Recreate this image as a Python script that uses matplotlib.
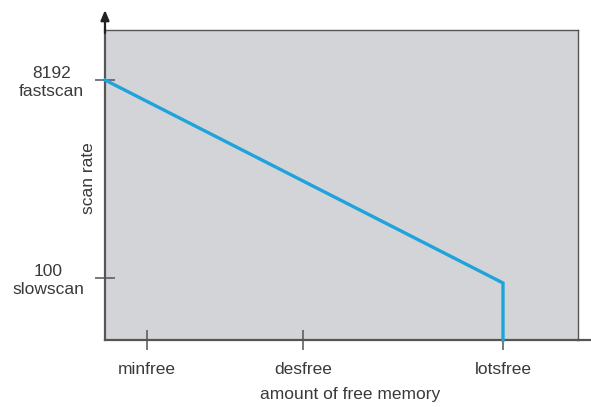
import matplotlib
matplotlib.use("Agg")
import matplotlib.pyplot as plt

# data
x_ticks = [42, 198, 398]
x_labels = ["minfree", "desfree", "lotsfree"]
y_ticks = [8192, 100]
y_labels = ["8192\nfastscan", "100\nslowscan"]
line_x = [0, 398, 398]
line_y = [8192, -104, -2434]

plt.rcParams['font.family'] = ['Liberation Sans', 'DejaVu Sans']
TXT = '#3a3a3a'
AX = '#555555'

fig = plt.figure(figsize=(5.91, 4.07), dpi=100)
ax = fig.add_axes([105/591, 67/407, 473/591, 310/407])
ax.set_facecolor('#d3d4d7')
ax.set_xlim(0, 473)
ax.set_ylim(-2434, 10235)

ax.plot(line_x, line_y, color='#1fa3dd', lw=2.4, solid_joinstyle='miter', clip_on=False, zorder=3)

for s in ['left', 'bottom']:
    ax.spines[s].set_color(AX)
    ax.spines[s].set_linewidth(1.6)
for s in ['right', 'top']:
    ax.spines[s].set_color('#555555')
    ax.spines[s].set_linewidth(1.0)

ax.set_xticks(x_ticks)
ax.set_xticklabels(x_labels)
ax.set_yticks(y_ticks)
ax.set_yticklabels(y_labels)
ax.tick_params(direction='inout', length=14.4, width=1.1, color=AX,
               labelsize=12.5, labelcolor=TXT)
ax.tick_params(axis='x', pad=9)
ax.tick_params(axis='y', pad=8)
for lbl in ax.get_yticklabels():
    lbl.set_multialignment('center')

ax.set_xlabel('amount of free memory', fontsize=12.5, color=TXT)
ax.xaxis.set_label_coords((350-105)/473, -(387-340)/310)
ax.set_ylabel('scan rate', fontsize=12.5, color=TXT)
ax.yaxis.set_label_coords(-(105-96)/473, (340-178)/310)

# axis extensions
ax.annotate('', xy=(0, 330/310), xycoords='axes fraction', xytext=(0, 0.99),
            textcoords='axes fraction',
            arrowprops=dict(arrowstyle='-|>,head_length=0.6,head_width=0.25',
                            color='#222222', lw=1.6, shrinkA=0, shrinkB=0))
ax.plot([1.0, 1.03], [0, 0], transform=ax.transAxes, color=AX, lw=1.6, clip_on=False)

fig.savefig('out.png', dpi=100)
